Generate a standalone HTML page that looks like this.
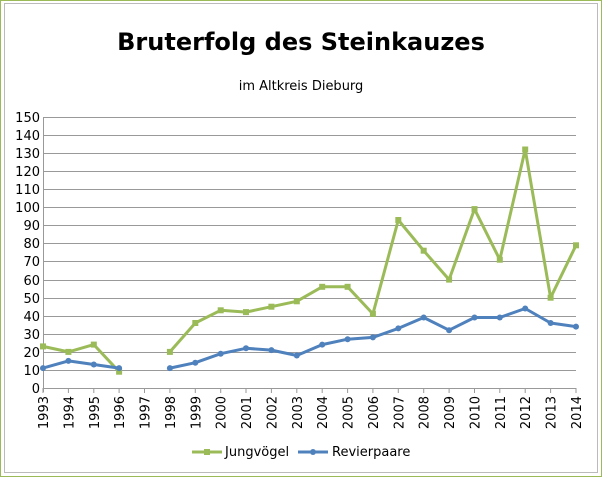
<!DOCTYPE html><html><head><meta charset="utf-8"><style>body{margin:0;background:#fff}svg{display:block}text{font-family:"DejaVu Sans","Liberation Sans",sans-serif}</style></head><body>
<svg width="602" height="477" xmlns="http://www.w3.org/2000/svg">
<rect x="0.5" y="0.5" width="601" height="476" fill="#fff" stroke="#9bbb59"/>
<rect x="4.5" y="3.5" width="593" height="469" fill="#fff" stroke="#bbb"/>
<text x="301" y="50" text-anchor="middle" font-size="24" font-weight="bold" font-family="Liberation Sans,sans-serif">Bruterfolg des Steinkauzes</text>
<text x="301" y="90" text-anchor="middle" font-size="13">im Altkreis Dieburg</text>
<g stroke="#999" stroke-width="1">
<line x1="43" x2="576" y1="117.5" y2="117.5"/><line x1="43" x2="576" y1="135.5" y2="135.5"/><line x1="43" x2="576" y1="153.5" y2="153.5"/><line x1="43" x2="576" y1="171.5" y2="171.5"/><line x1="43" x2="576" y1="189.5" y2="189.5"/><line x1="43" x2="576" y1="207.5" y2="207.5"/><line x1="43" x2="576" y1="225.5" y2="225.5"/><line x1="43" x2="576" y1="243.5" y2="243.5"/><line x1="43" x2="576" y1="261.5" y2="261.5"/><line x1="43" x2="576" y1="280.5" y2="280.5"/><line x1="43" x2="576" y1="298.5" y2="298.5"/><line x1="43" x2="576" y1="316.5" y2="316.5"/><line x1="43" x2="576" y1="334.5" y2="334.5"/><line x1="43" x2="576" y1="352.5" y2="352.5"/><line x1="43" x2="576" y1="370.5" y2="370.5"/><line x1="43" x2="576" y1="388.5" y2="388.5"/>
<line x1="43.5" x2="43.5" y1="117" y2="392"/>
</g>
<g stroke="#999"><line x1="43" x2="43" y1="388" y2="393"/><line x1="68.4" x2="68.4" y1="388" y2="393"/><line x1="93.8" x2="93.8" y1="388" y2="393"/><line x1="119.1" x2="119.1" y1="388" y2="393"/><line x1="144.5" x2="144.5" y1="388" y2="393"/><line x1="169.9" x2="169.9" y1="388" y2="393"/><line x1="195.3" x2="195.3" y1="388" y2="393"/><line x1="220.7" x2="220.7" y1="388" y2="393"/><line x1="246" x2="246" y1="388" y2="393"/><line x1="271.4" x2="271.4" y1="388" y2="393"/><line x1="296.8" x2="296.8" y1="388" y2="393"/><line x1="322.2" x2="322.2" y1="388" y2="393"/><line x1="347.6" x2="347.6" y1="388" y2="393"/><line x1="372.9" x2="372.9" y1="388" y2="393"/><line x1="398.3" x2="398.3" y1="388" y2="393"/><line x1="423.7" x2="423.7" y1="388" y2="393"/><line x1="449.1" x2="449.1" y1="388" y2="393"/><line x1="474.5" x2="474.5" y1="388" y2="393"/><line x1="499.8" x2="499.8" y1="388" y2="393"/><line x1="525.2" x2="525.2" y1="388" y2="393"/><line x1="550.6" x2="550.6" y1="388" y2="393"/><line x1="576" x2="576" y1="388" y2="393"/></g>
<g font-size="13" text-anchor="end">
<text x="40" y="122">150</text><text x="40" y="140">140</text><text x="40" y="158">130</text><text x="40" y="176">120</text><text x="40" y="194">110</text><text x="40" y="212">100</text><text x="40" y="230">90</text><text x="40" y="248">80</text><text x="40" y="266">70</text><text x="40" y="285">60</text><text x="40" y="303">50</text><text x="40" y="321">40</text><text x="40" y="339">30</text><text x="40" y="357">20</text><text x="40" y="375">10</text><text x="40" y="393">0</text>
</g>
<g font-size="13" text-anchor="end">
<text transform="translate(48,396) rotate(-90)">1993</text><text transform="translate(73.4,396) rotate(-90)">1994</text><text transform="translate(98.8,396) rotate(-90)">1995</text><text transform="translate(124.1,396) rotate(-90)">1996</text><text transform="translate(149.5,396) rotate(-90)">1997</text><text transform="translate(174.9,396) rotate(-90)">1998</text><text transform="translate(200.3,396) rotate(-90)">1999</text><text transform="translate(225.7,396) rotate(-90)">2000</text><text transform="translate(251,396) rotate(-90)">2001</text><text transform="translate(276.4,396) rotate(-90)">2002</text><text transform="translate(301.8,396) rotate(-90)">2003</text><text transform="translate(327.2,396) rotate(-90)">2004</text><text transform="translate(352.6,396) rotate(-90)">2005</text><text transform="translate(377.9,396) rotate(-90)">2006</text><text transform="translate(403.3,396) rotate(-90)">2007</text><text transform="translate(428.7,396) rotate(-90)">2008</text><text transform="translate(454.1,396) rotate(-90)">2009</text><text transform="translate(479.5,396) rotate(-90)">2010</text><text transform="translate(504.8,396) rotate(-90)">2011</text><text transform="translate(530.2,396) rotate(-90)">2012</text><text transform="translate(555.6,396) rotate(-90)">2013</text><text transform="translate(581,396) rotate(-90)">2014</text>
</g>
<g fill="none" stroke="#9bbb59" stroke-width="3" stroke-linejoin="round">
<polyline points="43,346.4 68.4,351.9 93.8,344.6 119.1,371.7"/>
<polyline points="169.9,351.9 195.3,323 220.7,310.3 246,312.1 271.4,306.7 296.8,301.3 322.2,286.8 347.6,286.8 372.9,313.9 398.3,220 423.7,250.7 449.1,279.6 474.5,209.1 499.8,259.7 525.2,149.5 550.6,297.7 576,245.3"/>
</g>
<g fill="#9bbb59">
<rect x="40" y="343.4" width="6" height="6"/><rect x="65.4" y="348.9" width="6" height="6"/><rect x="90.8" y="341.6" width="6" height="6"/><rect x="116.1" y="368.7" width="6" height="6"/><rect x="166.9" y="348.9" width="6" height="6"/><rect x="192.3" y="320" width="6" height="6"/><rect x="217.7" y="307.3" width="6" height="6"/><rect x="243" y="309.1" width="6" height="6"/><rect x="268.4" y="303.7" width="6" height="6"/><rect x="293.8" y="298.3" width="6" height="6"/><rect x="319.2" y="283.8" width="6" height="6"/><rect x="344.6" y="283.8" width="6" height="6"/><rect x="369.9" y="310.9" width="6" height="6"/><rect x="395.3" y="217" width="6" height="6"/><rect x="420.7" y="247.7" width="6" height="6"/><rect x="446.1" y="276.6" width="6" height="6"/><rect x="471.5" y="206.1" width="6" height="6"/><rect x="496.8" y="256.7" width="6" height="6"/><rect x="522.2" y="146.5" width="6" height="6"/><rect x="547.6" y="294.7" width="6" height="6"/><rect x="573" y="242.3" width="6" height="6"/>
</g>
<g fill="none" stroke="#4f81bd" stroke-width="3" stroke-linejoin="round">
<polyline points="43,368.1 68.4,360.9 93.8,364.5 119.1,368.1"/>
<polyline points="169.9,368.1 195.3,362.7 220.7,353.7 246,348.3 271.4,350.1 296.8,355.5 322.2,344.6 347.6,339.2 372.9,337.4 398.3,328.4 423.7,317.5 449.1,330.2 474.5,317.5 499.8,317.5 525.2,308.5 550.6,323 576,326.6"/>
</g>
<g fill="#4f81bd">
<circle cx="43" cy="368.1" r="3"/><circle cx="68.4" cy="360.9" r="3"/><circle cx="93.8" cy="364.5" r="3"/><circle cx="119.1" cy="368.1" r="3"/><circle cx="169.9" cy="368.1" r="3"/><circle cx="195.3" cy="362.7" r="3"/><circle cx="220.7" cy="353.7" r="3"/><circle cx="246" cy="348.3" r="3"/><circle cx="271.4" cy="350.1" r="3"/><circle cx="296.8" cy="355.5" r="3"/><circle cx="322.2" cy="344.6" r="3"/><circle cx="347.6" cy="339.2" r="3"/><circle cx="372.9" cy="337.4" r="3"/><circle cx="398.3" cy="328.4" r="3"/><circle cx="423.7" cy="317.5" r="3"/><circle cx="449.1" cy="330.2" r="3"/><circle cx="474.5" cy="317.5" r="3"/><circle cx="499.8" cy="317.5" r="3"/><circle cx="525.2" cy="308.5" r="3"/><circle cx="550.6" cy="323" r="3"/><circle cx="576" cy="326.6" r="3"/>
</g>
<line x1="192" x2="222" y1="452" y2="452" stroke="#9bbb59" stroke-width="3"/>
<rect x="204" y="449" width="6" height="6" fill="#9bbb59"/>
<text x="225" y="456" font-size="13">Jungvögel</text>
<line x1="298" x2="328" y1="452" y2="452" stroke="#4f81bd" stroke-width="3"/>
<circle cx="313" cy="452" r="3" fill="#4f81bd"/>
<text x="332" y="456" font-size="13">Revierpaare</text>
</svg></body></html>
